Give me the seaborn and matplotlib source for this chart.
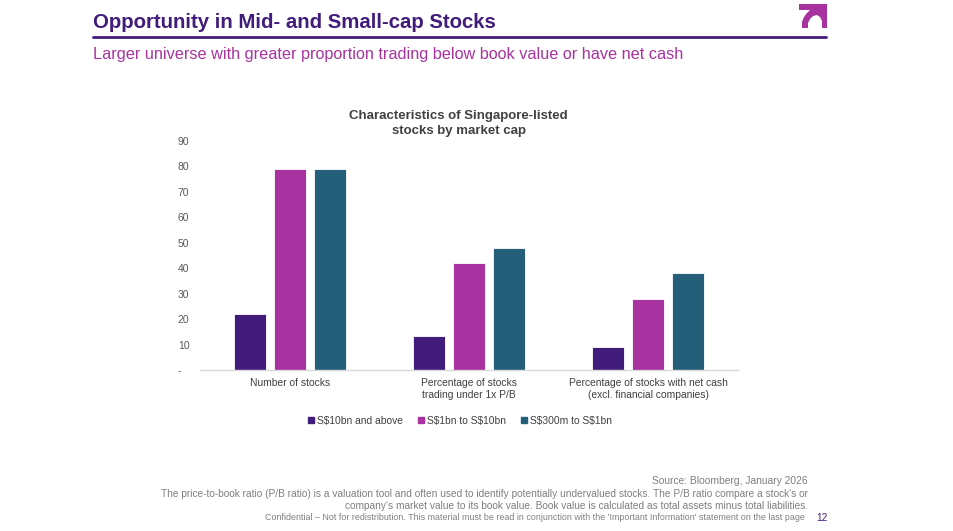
import matplotlib
matplotlib.use("Agg")
import matplotlib.pyplot as plt
import pandas as pd
import seaborn as sns
from matplotlib.patches import Polygon
from matplotlib.lines import Line2D

categories = ["Number of stocks",
              "Percentage of stocks\ntrading under 1x P/B",
              "Percentage of stocks with net cash\n(excl. financial companies)"]
series_names = ["S$10bn and above", "S$1bn to S$10bn", "S$300m to S$1bn"]
large_cap = [22, 13.5, 9]
mid_cap = [79, 42, 28]
small_cap = [79, 48, 38]
colors = ["#421C7A", "#A832A0", "#255E78"]
y_ticks = [0, 10, 20, 30, 40, 50, 60, 70, 80, 90]
y_tick_labels = ["-", "10", "20", "30", "40", "50", "60", "70", "80", "90"]

rows = []
for name, vals in zip(series_names, [large_cap, mid_cap, small_cap]):
    for cat, v in zip(categories, vals):
        rows.append({"category": cat, "series": name, "value": v})
df = pd.DataFrame(rows)

sns.set_theme(style="white")
plt.rcParams["font.family"] = ["Liberation Sans", "DejaVu Sans"]
plt.rcParams["text.parse_math"] = False

fig = plt.figure(figsize=(9.54, 5.31), dpi=100)
ax = fig.add_axes([0.2096, 0.3032, 0.564, 0.4313])

sns.barplot(data=df, x="category", y="value", hue="series", palette=colors,
            saturation=1, width=0.67, gap=0.2, edgecolor="white",
            linewidth=0.6, ax=ax, legend=False)

ax.set_ylim(0, 90)
ax.set_xlim(-0.5, 2.5)
ax.set_yticks(y_ticks)
ax.set_yticklabels(y_tick_labels)
ax.tick_params(axis="y", labelsize=7.5, colors="#595959", length=0, pad=16)
ax.tick_params(axis="x", labelsize=7.4, colors="#404040", length=0, pad=6)
for lab in ax.get_yticklabels():
    lab.set_horizontalalignment("left")
ax.set_xlabel("")
ax.set_ylabel("")
for s in ["top", "right", "left"]:
    ax.spines[s].set_visible(False)
ax.spines["bottom"].set_color("#D9D9D9")
ax.spines["bottom"].set_linewidth(1)

ax.set_title("Characteristics of Singapore-listed\nstocks by market cap",
             fontsize=9.5, fontweight="bold", color="#404040", pad=5, x=0.481,
             linespacing=1.35)

handles = [Line2D([0], [0], marker="s", linestyle="", markersize=4.5,
                  markerfacecolor=c, markeredgecolor=c) for c in colors]
fig.legend(handles, series_names, loc="center", bbox_to_anchor=(0.482, 0.207),
           ncol=3, frameon=False, fontsize=7.4, handlelength=0.6,
           handletextpad=0.25, columnspacing=1.5, labelcolor="#404040")

# header
fig.text(93 / 954, 1 - 22 / 531, "Opportunity in Mid- and Small-cap Stocks",
         fontsize=14.7, fontweight="bold", color="#421C7A", va="center", ha="left")
fig.add_artist(Line2D([93 / 954, 826 / 954], [1 - 37 / 531, 1 - 37 / 531],
                      color="#421C7A", linewidth=2, transform=fig.transFigure))
fig.text(93 / 954, 1 - 55 / 531,
         "Larger universe with greater proportion trading below book value or have net cash",
         fontsize=11.7, color="#A832A0", va="center", ha="left")

# logo
logo = [(799, 4), (827, 4), (827, 28), (822, 28), (822, 21), (820, 17),
        (817, 15), (813, 16), (810, 19), (808, 23), (808, 28), (802, 28),
        (802, 22), (804, 17), (807, 13), (810, 10), (799, 10)]
fig.add_artist(Polygon([(x / 954, 1 - y / 531) for x, y in logo], closed=True,
                       facecolor="#A832A0", edgecolor="none",
                       transform=fig.transFigure))

# footer
fig.text(808 / 954, 1 - 481 / 531, "Source: Bloomberg, January 2026",
         fontsize=7.4, color="#7F7F7F", ha="right", va="center")
fig.text(808 / 954, 1 - 494 / 531,
         "The price-to-book ratio (P/B ratio) is a valuation tool and often used to identify "
         "potentially undervalued stocks. The P/B ratio compare a stock's or",
         fontsize=7.3, color="#7F7F7F", ha="right", va="center")
fig.text(808 / 954, 1 - 506 / 531,
         "company's market value to its book value. Book value is calculated as total assets "
         "minus total liabilities.",
         fontsize=7.3, color="#7F7F7F", ha="right", va="center")
fig.text(805 / 954, 1 - 518 / 531,
         "Confidential \u2013 Not for redistribution. This material must be read in conjunction "
         "with the 'Important Information' statement on the last page",
         fontsize=6.4, color="#7F7F7F", ha="right", va="center")
fig.text(816 / 954, 1 - 518 / 531, "12", fontsize=7.2, color="#421C7A",
         ha="left", va="center")

fig.savefig("out.png", dpi=100)
